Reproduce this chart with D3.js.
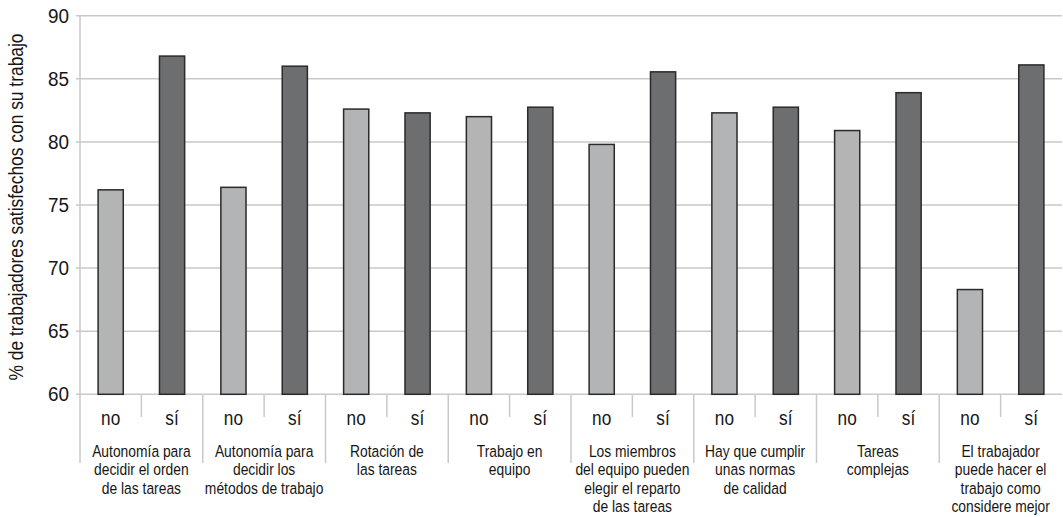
<!DOCTYPE html>
<html>
<head>
<meta charset="utf-8">
<script src="https://cdn.jsdelivr.net/npm/d3@7"></script>
<style>
  html, body { margin: 0; padding: 0; background: #fff; }
  svg { display: block; }
  text { font-family: "Liberation Sans", Arial, Helvetica, sans-serif; fill: #161616; }
</style>
</head>
<body>
<svg id="chart" width="1063" height="517"></svg>
<script>
// Work organisation practices, each split into "no" / "sí"
const categories = [
  ["Autonomía para", "decidir el orden", "de las tareas"],
  ["Autonomía para", "decidir los", "métodos de trabajo"],
  ["Rotación de", "las tareas"],
  ["Trabajo en", "equipo"],
  ["Los miembros", "del equipo pueden", "elegir el reparto", "de las tareas"],
  ["Hay que cumplir", "unas normas", "de calidad"],
  ["Tareas", "complejas"],
  ["El trabajador", "puede hacer el", "trabajo como", "considere mejor"]
];
const answers = ["no", "sí"];
// % of workers satisfied with their job
const noValues = [76.2, 76.4, 82.6, 82.0, 79.8, 82.3, 80.9, 68.3];
const siValues = [86.8, 86.0, 82.3, 82.75, 85.55, 82.75, 83.9, 86.1];
const yTicks = [60, 65, 70, 75, 80, 85, 90];
const yTitle = "% de trabajadores satisfechos con su trabajo";

const svg = d3.select("#chart");
const plotLeft = 80, plotRight = 1062, plotTop = 15.7, plotBottom = 394.3;
const sepBottom = 463, innerTickBottom = 417;

const groupIdx = categories.map((d, i) => i);
const x0 = d3.scaleBand().domain(groupIdx).range([plotLeft, plotRight]).padding(0);
const x1 = d3.scaleBand().domain(answers).range([0, x0.bandwidth()])
  .paddingInner(0.59).paddingOuter(0.295);
const y = d3.scaleLinear().domain([60, 90]).range([plotBottom, plotTop]);

const gridColor = "#c9c9c9";
// condensed look: horizontal squeeze of a regular sans face
const squeeze = (x, yy, sx) => `translate(${x},${yy}) scale(${sx},1)`;

// horizontal gridlines with short outer ticks
svg.append("g").selectAll("line").data(yTicks).join("line")
  .attr("x1", plotLeft - 4).attr("x2", plotRight)
  .attr("y1", d => y(d)).attr("y2", d => y(d))
  .attr("stroke", gridColor).attr("stroke-width", 1.5);
svg.append("g").selectAll("text").data(yTicks).join("text")
  .attr("transform", d => squeeze(69, y(d) + 6.8, 0.97))
  .attr("text-anchor", "end")
  .attr("font-size", 19.5)
  .text(d3.format("d"));

// vertical axis line, continuing down as the first group separator
svg.append("line").attr("x1", plotLeft).attr("x2", plotLeft)
  .attr("y1", plotTop).attr("y2", sepBottom)
  .attr("stroke", gridColor).attr("stroke-width", 1.5);

// group separators and inner ticks
svg.append("g").selectAll("line").data(groupIdx.slice(1)).join("line")
  .attr("x1", d => x0(d)).attr("x2", d => x0(d))
  .attr("y1", plotBottom).attr("y2", sepBottom)
  .attr("stroke", gridColor).attr("stroke-width", 1.5);
svg.append("g").selectAll("line").data(groupIdx).join("line")
  .attr("x1", d => x0(d) + x0.bandwidth() / 2)
  .attr("x2", d => x0(d) + x0.bandwidth() / 2)
  .attr("y1", plotBottom).attr("y2", innerTickBottom)
  .attr("stroke", gridColor).attr("stroke-width", 1.5);

// bars
const colors = { "no": "#b3b4b6", "sí": "#6d6e70" };
const rows = [];
groupIdx.forEach(i => {
  rows.push({ g: i, a: "no", v: noValues[i] });
  rows.push({ g: i, a: "sí", v: siValues[i] });
});
svg.append("g").selectAll("rect").data(rows).join("rect")
  .attr("x", d => x0(d.g) + x1(d.a))
  .attr("width", x1.bandwidth())
  .attr("y", d => y(d.v))
  .attr("height", d => y(60) - y(d.v))
  .attr("fill", d => colors[d.a])
  .attr("stroke", "#2a2a2a").attr("stroke-width", 1.5);

// "no" / "sí" labels
svg.append("g").selectAll("text").data(rows).join("text")
  .attr("transform", d => squeeze(x0(d.g) + x1(d.a) + x1.bandwidth() / 2, 425, 0.82))
  .attr("text-anchor", "middle")
  .attr("font-size", 21)
  .text(d => d.a);

// category labels
const catText = svg.append("g").selectAll("text").data(groupIdx).join("text")
  .attr("transform", d => squeeze(x0(d) + x0.bandwidth() / 2, 457, 0.84))
  .attr("text-anchor", "middle")
  .attr("font-size", 16.5);
catText.selectAll("tspan").data(d => categories[d]).join("tspan")
  .attr("x", 0)
  .attr("y", (d, i) => i * 18.5)
  .text(d => d);

// y-axis title
svg.append("text")
  .attr("transform", `translate(23,${(plotTop + plotBottom) / 2 + 2}) rotate(-90) scale(0.87,1)`)
  .attr("text-anchor", "middle")
  .attr("font-size", 20)
  .text(yTitle);
</script>
</body>
</html>
